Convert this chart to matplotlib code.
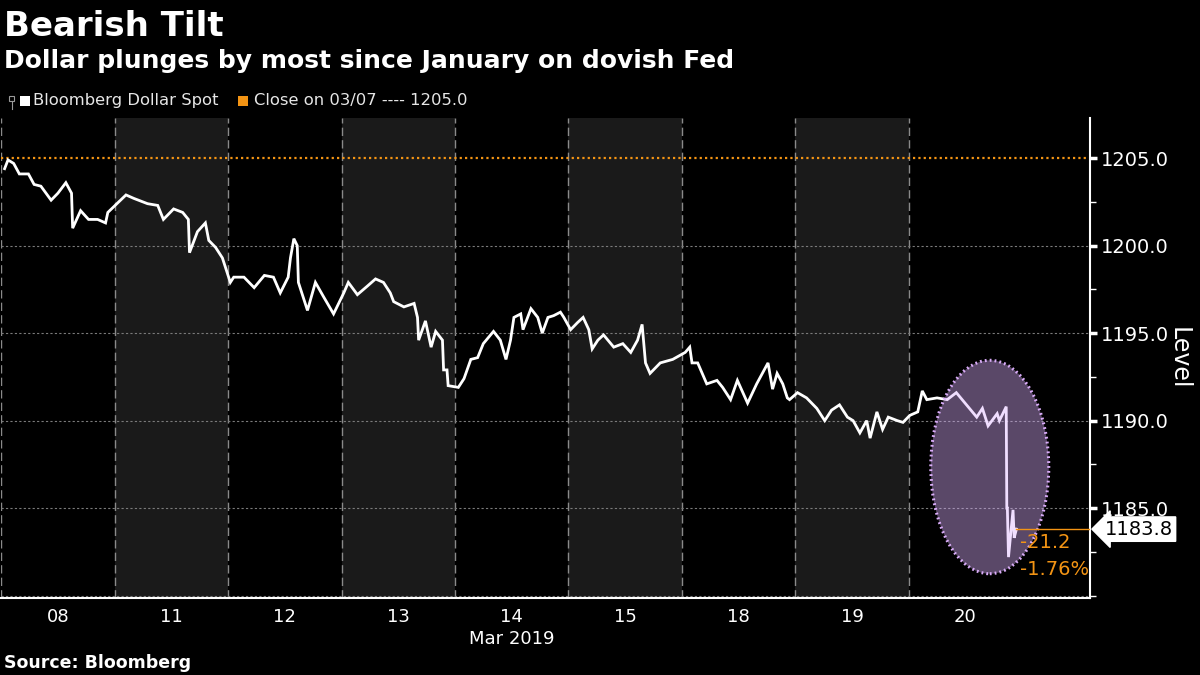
import matplotlib
matplotlib.use("Agg")
import matplotlib.pyplot as plt
from matplotlib.patches import Ellipse, Rectangle
from matplotlib.lines import Line2D
import matplotlib.transforms as mtransforms
import numpy as np

# trading days shown on the x axis (one slot per session)
day_labels = ["08", "11", "12", "13", "14", "15", "18", "19", "20"]
shaded_days = [1, 3, 5, 7]

# position in sessions since the start of 08 Mar, and the index level
t = [
    0.03, 0.06, 0.11, 0.16, 0.24, 0.29, 0.35, 0.44, 0.50, 0.57, 0.62, 0.63, 0.70, 0.77, 0.85, 0.92, 0.94,
    1.02, 1.10, 1.17, 1.29, 1.38, 1.43, 1.52, 1.60, 1.65, 1.66, 1.73, 1.80, 1.83, 1.89, 1.95,
    2.02, 2.05, 2.14, 2.23, 2.32, 2.40, 2.46, 2.53, 2.55, 2.58, 2.61, 2.62, 2.70, 2.77, 2.84, 2.93,
    3.02, 3.06, 3.14, 3.23, 3.30, 3.37, 3.43, 3.46, 3.55, 3.64, 3.67, 3.68, 3.74, 3.79, 3.83, 3.89, 3.90, 3.93, 3.94,
    4.03, 4.08, 4.14, 4.20, 4.25, 4.34, 4.40, 4.45, 4.49, 4.52, 4.58, 4.60, 4.67, 4.73, 4.77, 4.82, 4.87, 4.93, 4.96,
    5.02, 5.08, 5.13, 5.18, 5.21, 5.26, 5.31, 5.40, 5.48, 5.55, 5.61, 5.65, 5.68, 5.72, 5.81, 5.92,
    6.03, 6.07, 6.09, 6.14, 6.22, 6.31, 6.36, 6.43, 6.49, 6.58, 6.66, 6.76, 6.80, 6.84, 6.89, 6.93, 6.95,
    7.02, 7.10, 7.19, 7.26, 7.32, 7.39, 7.46, 7.51, 7.57, 7.63, 7.66, 7.72, 7.77, 7.82, 7.90, 7.95,
    8.01, 8.08, 8.12, 8.16, 8.25, 8.34, 8.42, 8.51, 8.60, 8.65, 8.70, 8.78, 8.80, 8.86, 8.865, 8.87, 8.88, 8.92, 8.93, 8.95,
]
level = [
    1204.4, 1204.9, 1204.7, 1204.1, 1204.1, 1203.5, 1203.4, 1202.6, 1203.0, 1203.6, 1203.0, 1201.0, 1202.0, 1201.5, 1201.5, 1201.3, 1201.9,
    1202.4, 1202.9, 1202.7, 1202.4, 1202.3, 1201.5, 1202.1, 1201.9, 1201.5, 1199.6, 1200.8, 1201.3, 1200.3, 1199.9, 1199.3,
    1197.9, 1198.2, 1198.2, 1197.6, 1198.3, 1198.2, 1197.3, 1198.2, 1199.3, 1200.4, 1200.0, 1197.9, 1196.3, 1197.9, 1197.1, 1196.1,
    1197.3, 1197.9, 1197.2, 1197.7, 1198.1, 1197.9, 1197.3, 1196.8, 1196.5, 1196.7, 1195.9, 1194.6, 1195.7, 1194.2, 1195.1, 1194.6, 1192.9, 1192.9, 1192.0,
    1191.9, 1192.4, 1193.5, 1193.6, 1194.4, 1195.1, 1194.6, 1193.5, 1194.6, 1195.9, 1196.1, 1195.2, 1196.4, 1195.9, 1195.0, 1195.9, 1196.0, 1196.2, 1195.9,
    1195.2, 1195.6, 1195.9, 1195.2, 1194.1, 1194.6, 1194.9, 1194.2, 1194.4, 1193.9, 1194.6, 1195.5, 1193.3, 1192.7, 1193.3, 1193.5,
    1193.9, 1194.2, 1193.3, 1193.3, 1192.1, 1192.3, 1191.9, 1191.2, 1192.3, 1191.0, 1192.1, 1193.3, 1191.8, 1192.7, 1192.1, 1191.3, 1191.2,
    1191.6, 1191.3, 1190.7, 1190.0, 1190.6, 1190.9, 1190.2, 1190.0, 1189.3, 1190.0, 1189.0, 1190.5, 1189.5, 1190.2, 1190.0, 1189.9,
    1190.3, 1190.5, 1191.7, 1191.2, 1191.3, 1191.2, 1191.6, 1190.9, 1190.2, 1190.7, 1189.7, 1190.4, 1190.0, 1190.8, 1185.0, 1185.0, 1182.2, 1184.9, 1183.3, 1183.8,
]

prev_close = 1205.0
last = 1183.8
change = -21.2
change_pct = -1.76

BG = "black"
ORANGE = "#f39414"
WHITE = "#ffffff"

fig = plt.figure(figsize=(12, 6.75), dpi=100, facecolor=BG)
ax = fig.add_axes([0.001, 0.114, 0.907, 0.711], facecolor=BG)

# alternating shaded sessions
for d in shaded_days:
    ax.axvspan(d, d + 1, color="#1a1a1a", zorder=0, lw=0)
# session separators
for d in range(len(day_labels)):
    ax.axvline(d, color="#8a8a8a", lw=1.0, ls=(0, (6, 3)), zorder=1)

# horizontal grid
for g in [1180, 1185, 1190, 1195, 1200]:
    ax.axhline(g, color="#7a7a7a", lw=0.8, ls=(0, (2, 2)), zorder=1)
ax.axhline(prev_close, color=ORANGE, lw=1.6, ls=(0, (1, 1.4)), zorder=2)

ax.plot(t, level, color=WHITE, lw=2.0, solid_joinstyle="miter", zorder=3)

# highlight of the Fed plunge
ell_face = Ellipse((8.715, 1187.35), 1.04, 12.2, facecolor=(0.86, 0.69, 1.0, 0.41),
                   edgecolor="none", zorder=4)
ell_edge = Ellipse((8.715, 1187.35), 1.04, 12.2, facecolor="none",
                   edgecolor="#d9acf8", lw=2.2, ls=(0, (0.6, 1.0)), zorder=5)
ax.add_patch(ell_face)
ax.add_patch(ell_edge)

ax.set_xlim(0, 9.595)
ax.set_ylim(1179.86, 1207.29)

# last value marker
ax.plot([t[-1], 9.595], [last, last], color=ORANGE, lw=1.0, zorder=6)
ax.text(8.98, last - 0.75, f"{change:.1f}", color=ORANGE, fontsize=14, ha="left", va="center", zorder=7)
ax.text(8.98, last - 2.3, f"{change_pct:.2f}%", color=ORANGE, fontsize=14, ha="left", va="center", zorder=7)
trans = mtransforms.blended_transform_factory(ax.transAxes, ax.transData)
ax.text(1.014, last, f"{last:.1f}", transform=trans, color="black", fontsize=14,
        ha="left", va="center", zorder=8,
        bbox=dict(boxstyle="larrow,pad=0.14", fc="white", ec="white"))

# axes
ax.yaxis.tick_right()
ax.yaxis.set_label_position("right")
ax.set_yticks([1185, 1190, 1195, 1200, 1205])
ax.set_yticklabels([f"{v:.1f}" for v in [1185, 1190, 1195, 1200, 1205]])
ax.set_yticks([1180, 1182.5, 1187.5, 1192.5, 1197.5, 1202.5], minor=True)
ax.tick_params(axis="y", which="major", colors=WHITE, labelsize=14, length=5, width=2.5, direction="out", pad=3)
ax.tick_params(axis="y", which="minor", colors=WHITE, length=4, width=1, direction="out")
ax.set_ylabel("Level", color=WHITE, fontsize=17, rotation=270, labelpad=16)

ax.set_xticks(np.arange(len(day_labels)) + 0.5)
ax.set_xticklabels(day_labels)
ax.tick_params(axis="x", colors=WHITE, labelsize=13, length=0, pad=7)
ax.text(4.5, -0.066, "Mar 2019", transform=mtransforms.blended_transform_factory(ax.transData, ax.transAxes),
        color=WHITE, fontsize=13, ha="center", va="top")

for side in ["left", "top"]:
    ax.spines[side].set_visible(False)
ax.spines["right"].set_color(WHITE)
ax.spines["right"].set_linewidth(1.5)
ax.spines["bottom"].set_color(WHITE)
ax.spines["bottom"].set_linewidth(1.5)

# titles
fig.text(0.003, 0.946, "Bearish Tilt", color=WHITE, fontsize=24.5, fontweight="bold", va="baseline")
fig.text(0.003, 0.899, "Dollar plunges by most since January on dovish Fed", color=WHITE,
         fontsize=18, fontweight="bold", va="baseline")

# legend
fig.patches.append(Rectangle((0.0075, 0.850), 0.0045, 0.008, transform=fig.transFigure,
                             facecolor="none", edgecolor="#9a9a9a", lw=0.8))
fig.lines.append(Line2D([0.0098, 0.0098], [0.850, 0.838], transform=fig.transFigure,
                        color="#9a9a9a", lw=0.8))
fig.patches.append(Rectangle((0.0167, 0.843), 0.0085, 0.015, transform=fig.transFigure,
                             facecolor=WHITE, edgecolor="none"))
fig.text(0.0275, 0.851, "Bloomberg Dollar Spot", color="#e6e6e6", fontsize=11.8, va="center")
fig.patches.append(Rectangle((0.198, 0.843), 0.0085, 0.015, transform=fig.transFigure,
                             facecolor=ORANGE, edgecolor="none"))
fig.text(0.2115, 0.851, "Close on 03/07 ---- 1205.0", color="#e6e6e6", fontsize=11.8, va="center")

fig.text(0.003, 0.018, "Source: Bloomberg", color=WHITE, fontsize=12.5, fontweight="bold", va="center")

fig.savefig("out.png", dpi=100, facecolor=BG)
